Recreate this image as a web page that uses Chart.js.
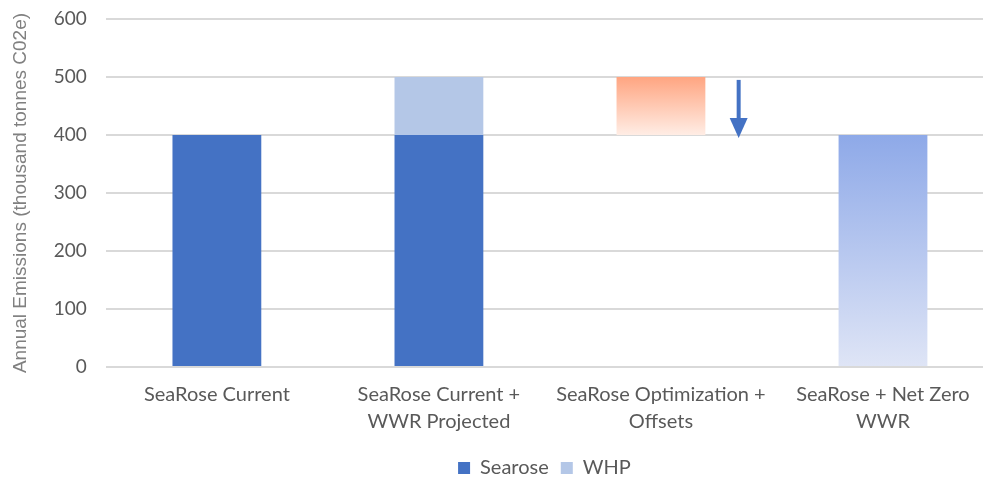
<!DOCTYPE html>
<html>
<head>
<meta charset="utf-8">
<script src="https://cdn.jsdelivr.net/npm/chart.js@4/dist/chart.umd.min.js"></script>
<style>
  html, body { margin: 0; padding: 0; background: #fff; }
  #outer { width: 983px; height: 477px; overflow: hidden; }
  /* plot runs past the right edge a little, as in the source picture */
  #wrap { width: 994px; height: 477px; }
</style>
</head>
<body>
<div id="outer"><div id="wrap"><canvas id="chart"></canvas></div></div>
<script>
const categories = [
  "SeaRose Current",
  ["SeaRose Current +", "WWR Projected"],
  ["SeaRose Optimization +", "Offsets"],
  ["SeaRose + Net Zero", "WWR"]
];
// floating bars: [start, end]
const searose = [[0, 400], [0, 400], null, null];
const whp = [null, [400, 500], null, null];
const optimization = [null, null, [400, 500], null];
const netZero = [null, null, null, [0, 400]];
const yTicks = [0, 100, 200, 300, 400, 500, 600];
// reduction arrow beside the optimization bar
const arrowFrom = 495;
const arrowTo = 395;

const labelFont = "Lato, 'Liberation Sans', sans-serif";

function gradientFill(top, bottom, lo, hi) {
  return (ctx) => {
    const chart = ctx.chart;
    const y = chart.scales.y;
    if (!y || !chart.chartArea) return top;
    const g = chart.ctx.createLinearGradient(0, y.getPixelForValue(hi), 0, y.getPixelForValue(lo));
    g.addColorStop(0, top);
    g.addColorStop(1, bottom);
    return g;
  };
}

const arrowPlugin = {
  id: "arrow",
  afterLayout(chart) {
    // legend is centred under the visible plot area
    if (chart.legend) {
      chart.legend.left = chart.chartArea.left;
      chart.legend.right = 983;
    }
  },
  afterDatasetsDraw(chart) {
    const { ctx, scales: { x, y } } = chart;
    const step = x.getPixelForValue(3) - x.getPixelForValue(2);
    const ax = x.getPixelForValue(2) + step * 0.35;
    const y1 = y.getPixelForValue(arrowFrom);
    const y2 = y.getPixelForValue(arrowTo);
    ctx.save();
    ctx.strokeStyle = "#4472C4";
    ctx.fillStyle = "#4472C4";
    ctx.lineWidth = 4;
    ctx.beginPath();
    ctx.moveTo(ax, y1);
    ctx.lineTo(ax, y2 - 18);
    ctx.stroke();
    ctx.beginPath();
    ctx.moveTo(ax - 9, y2 - 20);
    ctx.lineTo(ax + 9, y2 - 20);
    ctx.lineTo(ax, y2);
    ctx.closePath();
    ctx.fill();
    ctx.restore();
  }
};

new Chart(document.getElementById("chart"), {
  type: "bar",
  data: {
    labels: categories,
    datasets: [
      { label: "Searose", data: searose, backgroundColor: "#4472C4" },
      { label: "WHP", data: whp, backgroundColor: "#B4C7E7" },
      { label: "Optimization", data: optimization, backgroundColor: gradientFill("#FFA581", "#FFEDE5", 400, 500) },
      { label: "Net Zero", data: netZero, backgroundColor: gradientFill("#8EA9E8", "#DFE5F6", 0, 400) }
    ]
  },
  options: {
    responsive: true,
    maintainAspectRatio: false,
    animation: false,
    layout: { padding: { top: 0, right: 0, left: 9, bottom: -11 } },
    datasets: { bar: { categoryPercentage: 0.8, barPercentage: 0.5 } },
    scales: {
      x: {
        stacked: true,
        grid: { display: false },
        border: { display: false },
        ticks: { color: "#595959", font: { family: labelFont, size: 20, lineHeight: 1.35 }, maxRotation: 0, padding: 6 },
        afterFit: (s) => { s.height += 5; s.paddingRight = 0; }
      },
      y: {
        min: 0,
        max: 600,
        afterBuildTicks: (s) => { s.ticks = yTicks.map(v => ({ value: v })); },
        afterFit: (s) => { s.paddingTop = 19; },
        grid: { color: "#D9D9D9", lineWidth: 2, drawTicks: false },
        border: { display: false },
        ticks: { color: "#595959", font: { family: labelFont, size: 19 }, padding: 19 },
        title: {
          display: true,
          text: "Annual Emissions (thousand tonnes C02e)",
          color: "#808080",
          font: { family: "'Liberation Sans', Arial, sans-serif", size: 19 },
          padding: { top: 0, bottom: 3 }
        }
      }
    },
    plugins: {
      legend: {
        position: "bottom",
        labels: {
          filter: (item) => item.datasetIndex < 2,
          color: "#595959",
          font: { family: labelFont, size: 20 },
          boxWidth: 12,
          boxHeight: 12,
          padding: 12
        }
      },
      tooltip: { enabled: false }
    }
  },
  plugins: [arrowPlugin]
});
</script>
</body>
</html>
